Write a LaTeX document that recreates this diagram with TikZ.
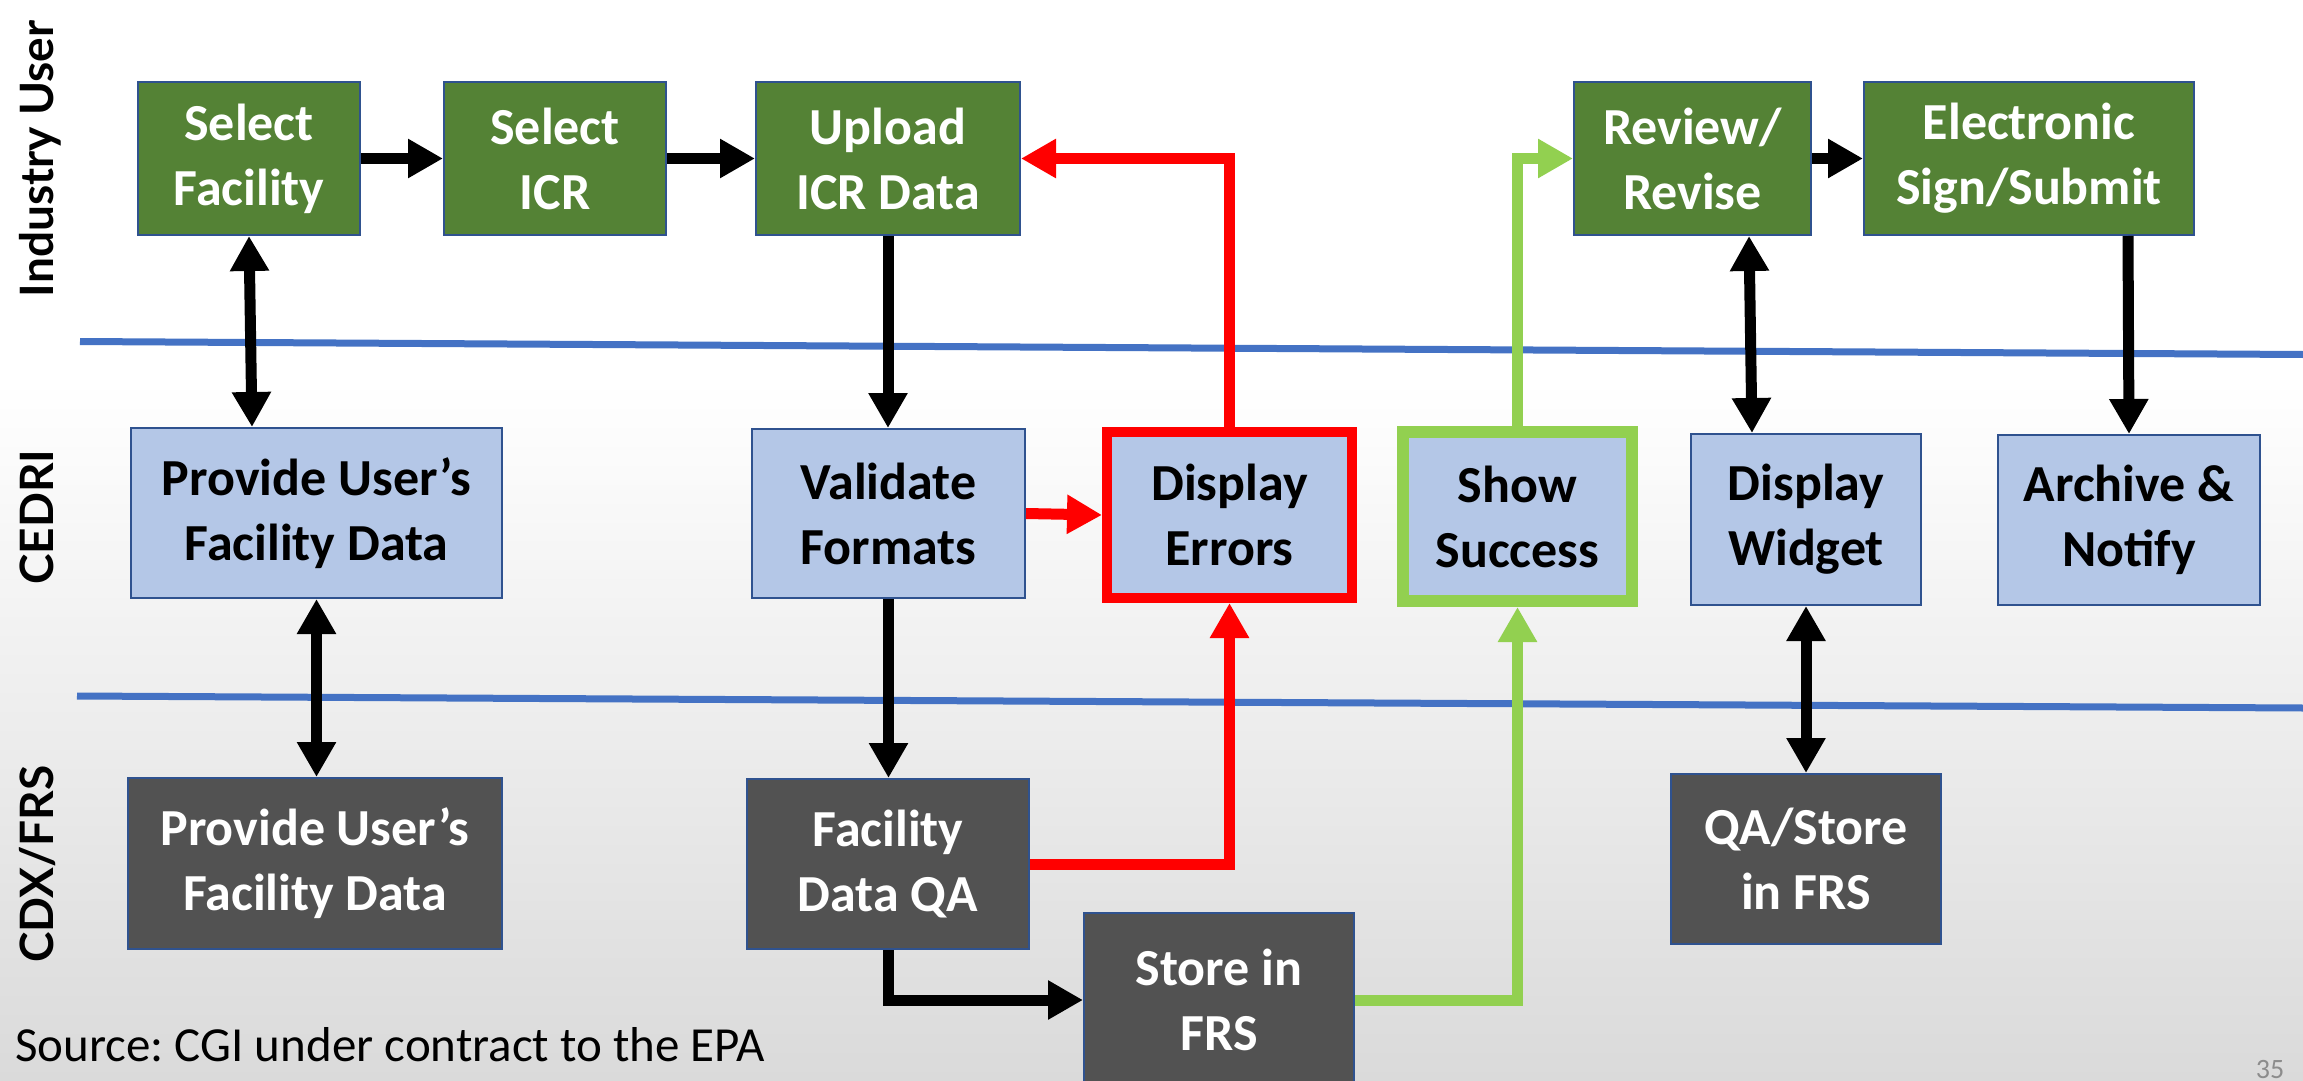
\documentclass[tikz,border=0pt]{standalone}
\usepackage{fontspec}
\setmainfont{Carlito}
\newfontfamily\lanefont{Lato}
\usetikzlibrary{arrows.meta,calc}
\frenchspacing
\definecolor{boxgreen}{HTML}{548235}
\definecolor{boxblue}{HTML}{B4C7E7}
\definecolor{boxgray}{HTML}{525252}
\definecolor{boxedge}{HTML}{2F528F}
\definecolor{laneblue}{HTML}{4472C4}
\definecolor{errred}{HTML}{FF0000}
\definecolor{okgreen}{HTML}{92D050}
\definecolor{bgbottom}{HTML}{DADADA}
\definecolor{pagenum}{HTML}{8C8C8C}
\begin{document}
\begin{tikzpicture}[x=1pt,y=-1pt,
  box/.style={draw=boxedge, line width=2pt, align=center, inner sep=0pt,
    font=\fontsize{52}{65}\selectfont\bfseries},
  gbox/.style={box, fill=boxgreen, text=white},
  lbox/.style={box, fill=boxblue, text=black},
  dbox/.style={box, fill=boxgray, text=white},
  lane/.style={font=\lanefont\bfseries\fontsize{46}{50}\selectfont, text=black, inner sep=0pt, rotate=90, anchor=base},
  conn/.style={line width=11pt, -{Triangle[length=35pt,width=37pt]}},
  dconn/.style={line width=11pt, {Triangle[length=35pt,width=37pt]}-{Triangle[length=35pt,width=37pt]}},
  sepline/.style={draw=laneblue, line width=7pt}
]
\useasboundingbox (0,0) rectangle (2303,1081);
\fill[white] (0,0) rectangle (2303,1081);
\shade[top color=white, bottom color=bgbottom] (0,380) rectangle (2303,1081);

% lane separators
\coordinate (s1a) at (80,341.5);
\coordinate (s1b) at (2303,354.5);
\coordinate (s2a) at (77,696);
\coordinate (s2b) at (2303,708);
\draw[sepline] (s1a) -- (s1b);
\draw[sepline] (s2a) -- (s2b);

% lane labels
\node[lane] (lu) at (53,159) {Industry User};
\node[lane] (lc) at (53,517) {CEDRI};
\node[lane] (lx) at (53,864) {CDX/FRS};

% Industry user row
\node[gbox, minimum width=222pt, minimum height=153pt] (sf) at (249,158.5) {Select\\Facility};
\node[gbox, minimum width=222pt, minimum height=153pt] (sicr) at (555,158.5) {Select\\ICR};
\node[gbox, minimum width=264pt, minimum height=153pt] (up) at (888,158.5) {Upload\\ICR Data};
\node[gbox, minimum width=237pt, minimum height=153pt] (rev) at (1692.5,158.5) {Review/\\Revise};
\node[gbox, minimum width=330pt, minimum height=153pt] (esign) at (2029,158.5) {Electronic\\Sign/Submit};

% CEDRI row
\node[lbox, minimum width=371pt, minimum height=170pt] (pc) at (316.5,513) {Provide User’s\\Facility Data};
\node[lbox, minimum width=273pt, minimum height=169pt] (val) at (888.5,513.5) {Validate\\Formats};
\node[lbox, draw=errred, line width=10pt, minimum width=245pt, minimum height=166pt] (err) at (1229.5,515) {Display\\Errors};
\node[lbox, draw=okgreen, line width=12pt, minimum width=229pt, minimum height=169pt] (succ) at (1517.5,516.5) {Show\\Success};
\node[lbox, minimum width=230pt, minimum height=171pt] (dw) at (1806,519.5) {Display\\Widget};
\node[lbox, minimum width=262pt, minimum height=170pt] (arch) at (2129,520) {Archive \&\\Notify};

% CDX/FRS row
\node[dbox, minimum width=374pt, minimum height=171pt] (pd) at (315,863.5) {Provide User’s\\Facility Data};
\node[dbox, minimum width=282pt, minimum height=170pt] (fqa) at (888,864) {Facility\\Data QA};
\node[dbox, minimum width=270pt, minimum height=174pt] (sfrs) at (1219,1000) {Store in\\FRS};
\node[dbox, minimum width=270pt, minimum height=170pt] (qas) at (1806,859) {QA/Store\\in FRS};

% connectors
\draw[conn] (sf) -- (sicr);
\draw[conn] (sicr) -- (up);
\draw[conn] (up.south) -- (up.south |- val.north);
\draw[dconn] (sf.south) -- ([xshift=-64.5pt]pc.north);
\draw[dconn] (pc.south) -- (pc.south |- pd.north);
\draw[conn] (val.south) -- (val.south |- fqa.north);
\draw[conn, errred] (val.east) -- (err.west);
\draw[conn, errred] (err.north) |- (up.east);
\draw[conn, errred] (fqa.east) -| (err.south);
\draw[conn] (fqa.south) |- (sfrs.west);
\draw[conn, okgreen] (sfrs.east) -| (succ.south);
\draw[conn, okgreen] (succ.north) |- (rev.west);
\draw[conn] (rev) -- (esign);
\draw[dconn] ([xshift=56.5pt]rev.south) -- ([xshift=-54pt]dw.north);
\draw[conn] ([xshift=99pt]esign.south) -- (arch.north);
\draw[dconn] (dw) -- (qas);

% footer texts
\node[anchor=base west, inner sep=0pt, font=\fontsize{49}{52}\selectfont] (src) at (15,1061) {Source: CGI under contract to the EPA};
\node[anchor=base, inner sep=0pt, text=pagenum, font=\fontsize{28}{30}\selectfont] (pg) at (2270,1078) {35};
\end{tikzpicture}
\end{document}
